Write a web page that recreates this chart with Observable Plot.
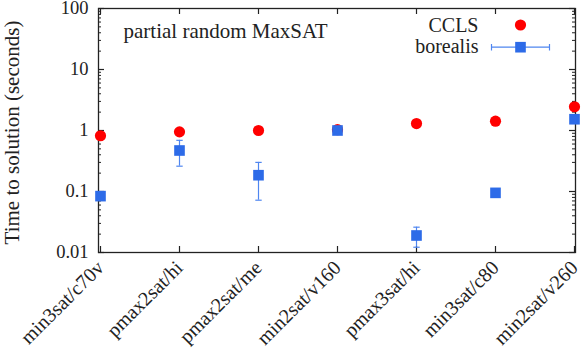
<!DOCTYPE html>
<html>
<head>
<meta charset="utf-8">
<script src="https://cdn.jsdelivr.net/npm/d3@7"></script>
<script src="https://cdn.jsdelivr.net/npm/@observablehq/plot@0.6"></script>
<style>
  html, body { margin: 0; padding: 0; background: #fff; }
  #chart svg { display: block; }
</style>
</head>
<body>
<div id="chart"></div>
<script>
// ---- data ----
const categories = ["min3sat/c70v", "pmax2sat/hi", "pmax2sat/me", "min2sat/v160", "pmax3sat/hi", "min3sat/c80", "min2sat/v260"];
const cclsValues = [0.82, 0.95, 1.0, 1.03, 1.3, 1.42, 2.45];
const borealisValues = [0.084, 0.47, 0.185, 1.0, 0.019, 0.095, 1.53];
const borealisLow = [0.078, 0.26, 0.072, 0.97, 0.0122, 0.092, 1.32];
const borealisHigh = [0.091, 0.69, 0.30, 1.03, 0.026, 0.098, 1.72];
const yTickValues = [0.01, 0.1, 1, 10, 100];
const yTickLabels = ["0.01", "0.1", "1", "10", "100"];
const seriesNames = ["CCLS", "borealis"];
const chartTitle = "partial random MaxSAT";
const yAxisTitle = "Time to solution (seconds)";

// ---- derived tables ----
const rows = categories.map((c, i) => ({
  cat: c, ccls: cclsValues[i], bor: borealisValues[i], lo: borealisLow[i], hi: borealisHigh[i]
}));
const yMinor = [];
for (let d = 0; d < yTickValues.length - 1; d++) {
  for (let k = 2; k <= 9; k++) yMinor.push(yTickValues[d] * k);
}

// ---- layout / style ----
const W = 581, H = 355;
const mL = 98, mR = 6, mT = 8, mB = 103;
const plotW = W - mL - mR, plotH = H - mT - mB;
const font = "'Liberation Serif', serif";
const red = "#ff0000";
const blue = "#2d6be8";
const barBlue = "#4f86f0";
const axisColor = "#222";
const textColor = "#222";

const capSymbol = (half) => ({
  draw(ctx) { ctx.moveTo(-half, 0); ctx.lineTo(half, 0); }
});
const legendBarSymbol = (half, cap) => ({
  draw(ctx) {
    ctx.moveTo(-half, 0); ctx.lineTo(half, 0);
    ctx.moveTo(-half, -cap); ctx.lineTo(-half, cap);
    ctx.moveTo(half, -cap); ctx.lineTo(half, cap);
  }
});

const chart = Plot.plot({
  width: W,
  height: H,
  marginLeft: mL,
  marginRight: mR,
  marginTop: mT,
  marginBottom: mB,
  style: `font-family: ${font}; background: #fff; color: ${textColor}; overflow: visible;`,
  x: { type: "point", domain: categories, padding: 0 },
  y: { type: "log", domain: [yTickValues[0], yTickValues[yTickValues.length - 1]] },
  marks: [
    // frame
    Plot.frame({ stroke: axisColor, strokeWidth: 1.3 }),
    // inward minor ticks (left & right)
    Plot.tickY(yMinor, { y: d => d, insetRight: plotW - 3, stroke: axisColor, strokeWidth: 1 }),
    Plot.tickY(yMinor, { y: d => d, insetLeft: plotW - 3, stroke: axisColor, strokeWidth: 1 }),
    // inward major ticks (left & right)
    Plot.tickY(yTickValues, { y: d => d, insetRight: plotW - 6, stroke: axisColor, strokeWidth: 1.2 }),
    Plot.tickY(yTickValues, { y: d => d, insetLeft: plotW - 6, stroke: axisColor, strokeWidth: 1.2 }),
    // inward x ticks (bottom & top)
    Plot.tickX(categories, { x: d => d, insetTop: plotH - 6, stroke: axisColor, strokeWidth: 1.2 }),
    Plot.tickX(categories, { x: d => d, insetBottom: plotH - 6, stroke: axisColor, strokeWidth: 1.2 }),
    // y tick labels
    Plot.axisY({
      ticks: yTickValues, tickSize: 0, tickPadding: 10,
      tickFormat: d => yTickLabels[yTickValues.indexOf(d)],
      fontSize: 18.5, fontFamily: font, label: null, fill: textColor
    }),
    // x tick labels
    Plot.axisX({
      tickRotate: -45, tickSize: 0, tickPadding: 12,
      fontSize: 20, fontFamily: font, label: null, fill: textColor
    }),
    // y axis title
    Plot.text([yAxisTitle], {
      frameAnchor: "left", dx: -86, dy: 2, rotate: -90,
      textAnchor: "middle", lineAnchor: "middle", fontSize: 21, fontFamily: font, fill: textColor
    }),
    // chart title inside plot
    Plot.text([chartTitle], {
      frameAnchor: "top-left", dx: 25, dy: 23, textAnchor: "start",
      lineAnchor: "middle", fontSize: 21, fontFamily: font, fill: textColor
    }),
    // legend
    Plot.text([seriesNames[0]], {
      frameAnchor: "top-right", dx: -97, dy: 17, textAnchor: "end",
      lineAnchor: "middle", fontSize: 20, fontFamily: font, fill: textColor
    }),
    Plot.text([seriesNames[1]], {
      frameAnchor: "top-right", dx: -97, dy: 38.5, textAnchor: "end",
      lineAnchor: "middle", fontSize: 20, fontFamily: font, fill: textColor
    }),
    Plot.dot([seriesNames[0]], {
      frameAnchor: "top-right", dx: -55, dy: 16.5, r: 5.6, fill: red, stroke: "none"
    }),
    Plot.dot([seriesNames[1]], {
      frameAnchor: "top-right", dx: -55, dy: 38.7, r: 6,
      symbol: legendBarSymbol(29, 3.3), stroke: barBlue, strokeWidth: 1.2, fill: "none"
    }),
    Plot.dot([seriesNames[1]], {
      frameAnchor: "top-right", dx: -55, dy: 38.7, r: 6, symbol: "square", fill: blue, stroke: "none"
    }),
    // data: CCLS
    Plot.dot(rows, { x: "cat", y: "ccls", r: 5.6, fill: red, stroke: "none" }),
    // data: borealis error bars
    Plot.ruleX(rows, { x: "cat", y1: "lo", y2: "hi", stroke: barBlue, strokeWidth: 1.2 }),
    Plot.dot(rows, { x: "cat", y: "lo", symbol: capSymbol(3.2), stroke: barBlue, strokeWidth: 1.2, fill: "none" }),
    Plot.dot(rows, { x: "cat", y: "hi", symbol: capSymbol(3.2), stroke: barBlue, strokeWidth: 1.2, fill: "none" }),
    // data: borealis squares
    Plot.dot(rows, { x: "cat", y: "bor", r: 6, symbol: "square", fill: blue, stroke: "none" })
  ]
});
document.getElementById("chart").appendChild(chart);
</script>
</body>
</html>
